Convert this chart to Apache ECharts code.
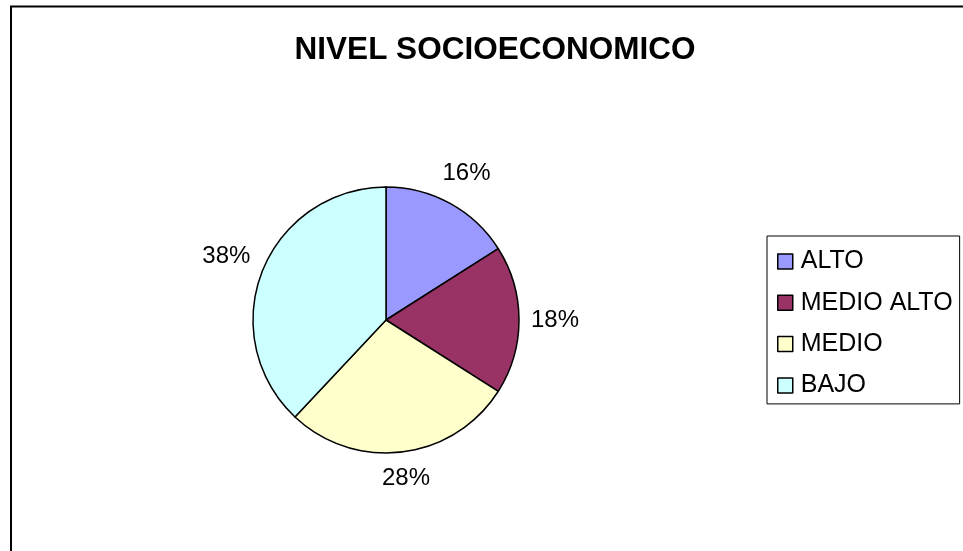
<!DOCTYPE html>
<html>
<head>
<meta charset="utf-8">
<script src="https://cdn.jsdelivr.net/npm/echarts@6/dist/echarts.min.js"></script>
<style>
  html, body { margin: 0; padding: 0; background: #fff; }
  #main { width: 963px; height: 551px; }
</style>
</head>
<body>
<div id="main"></div>
<script>
const categories = ["ALTO", "MEDIO ALTO", "MEDIO", "BAJO"];
const values = [16, 18, 28, 38];
const colors = ["#9999FF", "#993366", "#FFFFCC", "#CCFFFF"];

const cx = 386;
const cy = 320;
const R = 133;
const startAngle = 90;
const labelGap = 12;

const total = values.reduce((a, b) => a + b, 0);

const chart = echarts.init(document.getElementById("main"));

// put each % label just outside the slice, centred on its mid angle (like excel)
function placeLabel(params) {
  const i = params.dataIndex;
  let before = 0;
  for (let k = 0; k < i; k++) before += values[k];
  const mid = (startAngle - ((before + values[i] / 2) / total) * 360) * Math.PI / 180;
  const dx = Math.cos(mid);
  const dy = -Math.sin(mid);
  const w = params.labelRect.width;
  const h = params.labelRect.height;
  const d = R + labelGap + Math.abs(dx) * w / 2 + Math.abs(dy) * h / 2;
  return {
    x: cx + dx * d,
    y: cy + dy * d,
    align: "center",
    verticalAlign: "middle",
  };
}

const option = {
  backgroundColor: "#ffffff",
  animation: false,
  color: colors,
  title: {
    text: "NIVEL SOCIOECONOMICO",
    left: 490,
    top: 29,
    textAlign: "center",
    textStyle: {
      fontFamily: "Liberation Sans",
      fontSize: 31.5,
      fontWeight: "bold",
      color: "#000",
    },
  },
  legend: {
    orient: "vertical",
    left: 767,
    top: 236,
    padding: [13, 7, 6, 10],
    itemWidth: 15,
    itemHeight: 15,
    itemGap: 16.3,
    borderColor: "#000",
    borderWidth: 1,
    icon: "rect",
    itemStyle: { borderColor: "#000", borderWidth: 1.5 },
    textStyle: {
      fontFamily: "Liberation Sans",
      fontSize: 25,
      color: "#000",
      padding: [0, 0, 0, 3],
    },
    data: categories,
  },
  graphic: [
    {
      type: "rect",
      shape: { x: 11, y: 6.5, width: 1000, height: 600 },
      style: { fill: "none", stroke: "#000", lineWidth: 2 },
      silent: true,
    },
  ],
  series: [
    {
      type: "pie",
      center: [cx, cy],
      radius: R,
      startAngle: startAngle,
      clockwise: true,
      itemStyle: { borderColor: "#000", borderWidth: 1.5 },
      label: {
        show: true,
        position: "outside",
        formatter: "{c}%",
        fontFamily: "Liberation Sans",
        fontSize: 24,
        color: "#000",
      },
      labelLine: { show: false },
      labelLayout: placeLabel,
      emphasis: { disabled: true },
      data: categories.map((name, i) => ({ name: name, value: values[i] })),
    },
  ],
};

chart.setOption(option);
</script>
</body>
</html>
